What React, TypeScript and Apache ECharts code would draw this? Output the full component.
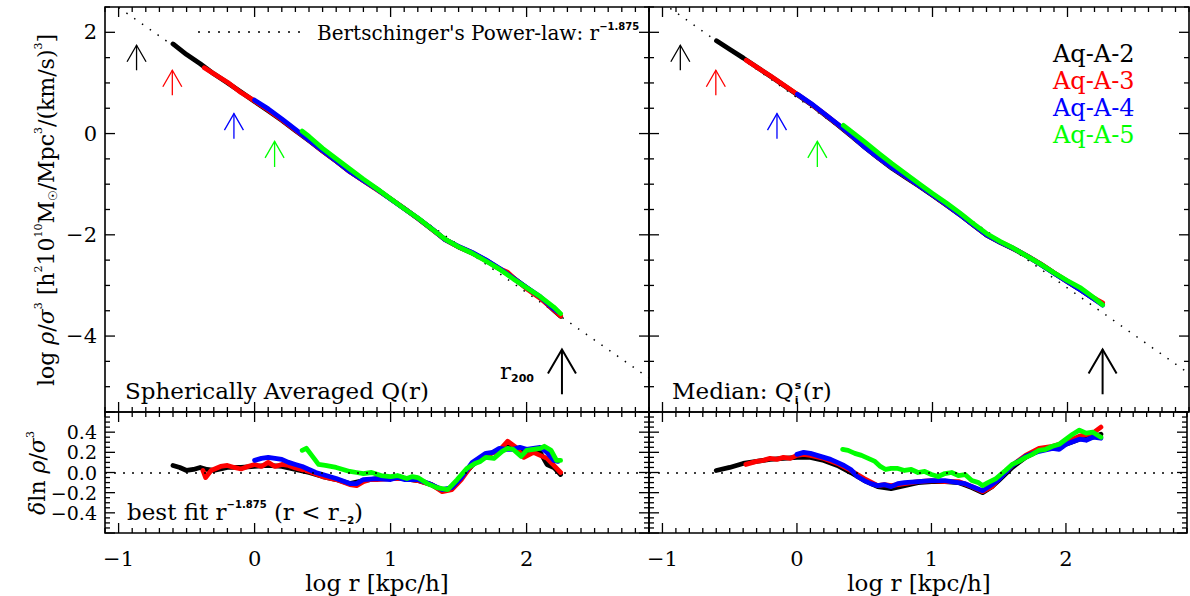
import React, { useEffect, useRef } from "react";
import * as echarts from "echarts";

// ---------- axis ranges ----------
const X_MIN = -1.1;
const X_MAX = 2.9;
const Y_TOP_MIN = -5.5;
const Y_TOP_MAX = 2.5;
const Y_BOT_MIN = -0.6;
const Y_BOT_MAX = 0.6;

// ---------- tick values ----------
const xMajorTicks = [-1, 0, 1, 2];
const yTopMajorTicks = [-4, -2, 0, 2];
const yBotMajorTicks = [-0.6, -0.4, -0.2, 0, 0.2, 0.4, 0.6];

// ---------- labels ----------
const seriesNames = ["Aq-A-2", "Aq-A-3", "Aq-A-4", "Aq-A-5"];
const seriesColors = ["#000000", "#ff0000", "#0000ff", "#00ff00"];

// ---------- Bertschinger power law (log rho/sigma^3 at log r = -1 and 2.9) ----------
const powerLawX = [-1, 2.9];
const powerLawLeft = [2.49, -4.83];
const powerLawRight = [2.58, -4.74];

// ---------- convergence-radius arrows (log r, tail, tip) ----------
const arrowX = [-0.868, -0.605, -0.152, 0.147];
const arrowTail = [1.25, 0.755, -0.1, -0.66];
const arrowTip = [1.745, 1.25, 0.395, -0.155];
const r200X = 2.26;
const r200Tail = -5.15;
const r200Tip = -4.265;

// ---------- top-left: spherically averaged ----------
const tlA2 = [[-0.6,1.77],[-0.5,1.56],[-0.4,1.38],[-0.3,1.18],[-0.2,1.005],[-0.1,0.82],[0,0.635],[0.1,0.45],[0.2,0.26],[0.3,0.06],[0.4,-0.14],[0.5,-0.345],[0.6,-0.545],[0.7,-0.75],[0.8,-0.925],[0.9,-1.1],[1.0,-1.29],[1.1,-1.48],[1.2,-1.675],[1.3,-1.88],[1.4,-2.09],[1.5,-2.24],[1.6,-2.36],[1.7,-2.5],[1.8,-2.67],[1.9,-2.845],[2.0,-3.045],[2.1,-3.24],[2.2,-3.49],[2.25,-3.61]];
const tlA3 = [[-0.37,1.3],[-0.3,1.18],[-0.2,1.015],[-0.1,0.81],[0,0.645],[0.1,0.465],[0.2,0.27],[0.3,0.067],[0.4,-0.135],[0.5,-0.345],[0.6,-0.545],[0.7,-0.755],[0.8,-0.93],[0.9,-1.108],[1.0,-1.29],[1.1,-1.478],[1.2,-1.675],[1.3,-1.88],[1.4,-2.093],[1.5,-2.237],[1.6,-2.355],[1.7,-2.504],[1.8,-2.67],[1.86,-2.74],[1.9,-2.84],[2.0,-3.066],[2.1,-3.254],[2.2,-3.485],[2.25,-3.605]];
const tlA4 = [[0,0.66],[0.1,0.488],[0.2,0.29],[0.3,0.082],[0.4,-0.127],[0.5,-0.336],[0.6,-0.54],[0.7,-0.75],[0.8,-0.925],[0.9,-1.1],[1.0,-1.295],[1.1,-1.483],[1.2,-1.67],[1.3,-1.875],[1.4,-2.093],[1.5,-2.23],[1.6,-2.347],[1.7,-2.495],[1.8,-2.66],[1.9,-2.853],[2.0,-3.04],[2.1,-3.223],[2.2,-3.463],[2.23,-3.52]];
const tlA5 = [[0.35,0.05],[0.4,-0.057],[0.5,-0.293],[0.6,-0.498],[0.7,-0.7],[0.8,-0.9],[0.9,-1.09],[1.0,-1.287],[1.1,-1.483],[1.2,-1.666],[1.3,-1.88],[1.4,-2.085],[1.5,-2.237],[1.6,-2.364],[1.7,-2.517],[1.8,-2.678],[1.9,-2.866],[2.0,-3.044],[2.1,-3.219],[2.2,-3.428],[2.25,-3.557]];

// ---------- top-right: median ----------
const trA2 = [[-0.6,1.834],[-0.5,1.66],[-0.4,1.49],[-0.3,1.31],[-0.2,1.131],[-0.1,0.948],[0,0.765],[0.1,0.58],[0.2,0.377],[0.3,0.168],[0.4,-0.05],[0.5,-0.272],[0.6,-0.486],[0.7,-0.686],[0.8,-0.861],[0.9,-1.035],[1.0,-1.218],[1.1,-1.406],[1.2,-1.598],[1.3,-1.803],[1.4,-2.008],[1.5,-2.147],[1.6,-2.278],[1.7,-2.422],[1.8,-2.579],[1.9,-2.754],[2.0,-2.928],[2.1,-3.094],[2.2,-3.273],[2.26,-3.372]];
const trA3 = [[-0.38,1.447],[-0.3,1.31],[-0.2,1.136],[-0.1,0.953],[0,0.774],[0.1,0.586],[0.2,0.386],[0.3,0.177],[0.4,-0.041],[0.5,-0.264],[0.6,-0.481],[0.7,-0.669],[0.8,-0.848],[0.9,-1.027],[1.0,-1.21],[1.1,-1.402],[1.2,-1.589],[1.3,-1.798],[1.4,-2.003],[1.5,-2.139],[1.6,-2.27],[1.7,-2.414],[1.8,-2.571],[1.9,-2.75],[2.0,-2.92],[2.1,-3.081],[2.2,-3.256],[2.26,-3.342]];
const trA4 = [[0,0.778],[0.1,0.595],[0.2,0.39],[0.3,0.181],[0.4,-0.037],[0.5,-0.272],[0.6,-0.481],[0.7,-0.673],[0.8,-0.843],[0.9,-1.027],[1.0,-1.21],[1.1,-1.397],[1.2,-1.593],[1.3,-1.798],[1.4,-2.003],[1.5,-2.143],[1.6,-2.27],[1.7,-2.418],[1.8,-2.584],[1.9,-2.758],[2.0,-2.928],[2.1,-3.094],[2.2,-3.273],[2.26,-3.39]];
const trA5 = [[0.34,0.162],[0.4,0.037],[0.5,-0.168],[0.6,-0.386],[0.7,-0.595],[0.8,-0.791],[0.9,-0.988],[1.0,-1.184],[1.1,-1.367],[1.2,-1.563],[1.3,-1.772],[1.4,-1.973],[1.5,-2.13],[1.6,-2.265],[1.7,-2.422],[1.8,-2.579],[1.9,-2.75],[2.0,-2.907],[2.1,-3.055],[2.2,-3.251],[2.26,-3.385]];

// ---------- bottom-left: residuals, spherically averaged ----------
const blA2 = [[-0.6,0.07],[-0.55,0.05],[-0.5,0.02],[-0.45,0.03],[-0.4,0.05],[-0.35,0.03],[-0.3,0.02],[-0.2,0.05],[-0.1,0.05],[0,0.06],[0.1,0.07],[0.2,0.06],[0.3,0.03],[0.4,0.0],[0.5,-0.04],[0.6,-0.07],[0.7,-0.11],[0.8,-0.08],[0.9,-0.06],[1.0,-0.06],[1.1,-0.06],[1.2,-0.08],[1.3,-0.12],[1.38,-0.18],[1.45,-0.16],[1.5,-0.08],[1.6,0.07],[1.7,0.17],[1.8,0.22],[1.85,0.28],[1.9,0.25],[2.0,0.22],[2.1,0.2],[2.15,0.08],[2.2,0.05],[2.25,-0.02]];
const blA3 = [[-0.38,0.02],[-0.36,-0.05],[-0.32,0.02],[-0.25,0.06],[-0.2,0.07],[-0.15,0.05],[-0.1,0.035],[-0.05,0.06],[0,0.08],[0.05,0.06],[0.1,0.1],[0.15,0.06],[0.2,0.08],[0.25,0.07],[0.3,0.045],[0.4,0.01],[0.5,-0.04],[0.6,-0.07],[0.7,-0.12],[0.75,-0.13],[0.8,-0.09],[0.85,-0.07],[0.9,-0.07],[1.0,-0.06],[1.1,-0.06],[1.2,-0.08],[1.3,-0.12],[1.38,-0.19],[1.45,-0.17],[1.52,-0.07],[1.6,0.08],[1.7,0.17],[1.8,0.22],[1.86,0.31],[1.92,0.25],[1.98,0.15],[2.05,0.2],[2.1,0.17],[2.15,0.14],[2.2,0.07],[2.25,0.0]];
const blA4 = [[0,0.12],[0.05,0.14],[0.1,0.15],[0.15,0.14],[0.2,0.13],[0.25,0.1],[0.3,0.08],[0.35,0.06],[0.4,0.03],[0.45,0.0],[0.5,-0.02],[0.6,-0.06],[0.7,-0.11],[0.75,-0.11],[0.8,-0.07],[0.9,-0.06],[1.0,-0.07],[1.05,-0.05],[1.1,-0.07],[1.2,-0.07],[1.3,-0.12],[1.38,-0.17],[1.45,-0.15],[1.52,-0.05],[1.6,0.1],[1.7,0.19],[1.75,0.2],[1.8,0.24],[1.85,0.23],[1.9,0.23],[1.95,0.25],[2.0,0.23],[2.05,0.24],[2.1,0.25],[2.15,0.2],[2.2,0.12],[2.23,0.11]];
const blA5 = [[0.35,0.22],[0.38,0.24],[0.42,0.17],[0.47,0.08],[0.52,0.07],[0.56,0.06],[0.6,0.05],[0.65,0.03],[0.7,0.01],[0.75,0.0],[0.8,-0.01],[0.86,0.0],[0.93,-0.03],[1.0,-0.04],[1.05,-0.03],[1.12,-0.06],[1.16,-0.04],[1.2,-0.05],[1.27,-0.11],[1.34,-0.15],[1.42,-0.17],[1.49,-0.07],[1.56,0.04],[1.62,0.09],[1.66,0.11],[1.7,0.15],[1.76,0.14],[1.82,0.21],[1.86,0.24],[1.9,0.23],[1.96,0.16],[2.0,0.22],[2.05,0.23],[2.1,0.24],[2.13,0.26],[2.18,0.22],[2.22,0.12],[2.25,0.12]];

// ---------- bottom-right: residuals, median ----------
const brA2 = [[-0.6,0.02],[-0.5,0.05],[-0.4,0.09],[-0.3,0.11],[-0.2,0.13],[-0.1,0.14],[0,0.15],[0.1,0.15],[0.2,0.12],[0.3,0.07],[0.4,0.0],[0.5,-0.08],[0.6,-0.14],[0.7,-0.16],[0.8,-0.13],[0.9,-0.1],[1.0,-0.09],[1.1,-0.09],[1.2,-0.1],[1.3,-0.15],[1.38,-0.2],[1.45,-0.14],[1.5,-0.08],[1.6,0.05],[1.7,0.15],[1.8,0.22],[1.9,0.25],[2.0,0.28],[2.1,0.33],[2.2,0.35],[2.26,0.38]];
const brA3 = [[-0.38,0.08],[-0.3,0.11],[-0.25,0.12],[-0.2,0.14],[-0.15,0.13],[-0.1,0.15],[-0.05,0.14],[0,0.17],[0.05,0.18],[0.1,0.17],[0.2,0.14],[0.3,0.09],[0.4,0.02],[0.5,-0.06],[0.6,-0.13],[0.65,-0.12],[0.7,-0.13],[0.8,-0.11],[0.9,-0.09],[1.0,-0.08],[1.1,-0.09],[1.2,-0.09],[1.3,-0.14],[1.38,-0.19],[1.45,-0.14],[1.5,-0.06],[1.6,0.07],[1.7,0.17],[1.8,0.24],[1.9,0.26],[2.0,0.3],[2.1,0.36],[2.2,0.39],[2.26,0.45]];
const brA4 = [[0,0.18],[0.05,0.2],[0.1,0.19],[0.15,0.17],[0.2,0.15],[0.25,0.13],[0.3,0.1],[0.35,0.07],[0.4,0.03],[0.45,-0.04],[0.5,-0.08],[0.55,-0.11],[0.6,-0.13],[0.65,-0.12],[0.7,-0.14],[0.75,-0.11],[0.8,-0.1],[0.9,-0.09],[1.0,-0.08],[1.1,-0.08],[1.2,-0.1],[1.25,-0.11],[1.3,-0.14],[1.38,-0.18],[1.45,-0.12],[1.5,-0.07],[1.6,0.07],[1.7,0.16],[1.8,0.21],[1.9,0.24],[1.95,0.23],[2.0,0.28],[2.1,0.33],[2.15,0.32],[2.2,0.35],[2.26,0.34]];
const brA5 = [[0.34,0.23],[0.38,0.22],[0.43,0.19],[0.48,0.17],[0.53,0.14],[0.58,0.11],[0.62,0.06],[0.66,0.03],[0.7,0.04],[0.75,0.04],[0.8,0.02],[0.85,0.03],[0.9,0.0],[0.95,0.01],[1.0,-0.02],[1.05,-0.04],[1.1,-0.01],[1.15,0.0],[1.2,-0.03],[1.25,-0.02],[1.3,-0.08],[1.35,-0.1],[1.38,-0.13],[1.42,-0.1],[1.48,-0.06],[1.55,0.02],[1.6,0.08],[1.65,0.11],[1.7,0.15],[1.75,0.18],[1.8,0.22],[1.85,0.23],[1.9,0.26],[1.95,0.28],[2.0,0.33],[2.05,0.38],[2.1,0.42],[2.15,0.39],[2.2,0.4],[2.26,0.35]];

const SERIF = '"DejaVu Serif", serif';
const SANS = '"DejaVu Sans", sans-serif';

function steps(a: number, b: number, step: number): number[] {
  const out: number[] = [];
  const n = Math.round((b - a) / step);
  for (let i = 0; i <= n; i++) out.push(Math.round((a + i * step) * 10000) / 10000);
  return out;
}
const near = (a: number, b: number) => Math.abs(a - b) < 1e-6;
const minus = (s: string) => s.replace("-", "\u2212");

function tickSeries(gi: number, yMin: number, yMax: number, yMajor: number[], yStep: number) {
  const data: number[][] = [];
  steps(X_MIN, X_MAX, 0.1).forEach((v) => data.push([v, yMin, 0, xMajorTicks.some((m) => near(m, v)) ? 1 : 0]));
  steps(yMin, yMax, yStep).forEach((v) => data.push([X_MIN, v, 1, yMajor.some((m) => near(m, v)) ? 1 : 0]));
  return {
    type: "custom",
    xAxisIndex: gi,
    yAxisIndex: gi,
    silent: true,
    z: 10,
    data,
    renderItem: (_p: any, api: any) => {
      const dim = api.value(2);
      const len = api.value(3) ? 10 : 5;
      const st = { stroke: "#000", lineWidth: 1.3 };
      if (dim === 0) {
        const v = api.value(0);
        const b = api.coord([v, yMin]);
        const t = api.coord([v, yMax]);
        return {
          type: "group",
          children: [
            { type: "line", shape: { x1: b[0], y1: b[1], x2: b[0], y2: b[1] - len }, style: st },
            { type: "line", shape: { x1: t[0], y1: t[1], x2: t[0], y2: t[1] + len }, style: st },
          ],
        };
      }
      const v = api.value(1);
      const l = api.coord([X_MIN, v]);
      const r = api.coord([X_MAX, v]);
      return {
        type: "group",
        children: [
          { type: "line", shape: { x1: l[0], y1: l[1], x2: l[0] + len, y2: l[1] }, style: st },
          { type: "line", shape: { x1: r[0], y1: r[1], x2: r[0] - len, y2: r[1] }, style: st },
        ],
      };
    },
  };
}

function arrowSeries(gi: number) {
  const data = arrowX.map((x, i) => [x, arrowTail[i], arrowTip[i], i, 0]);
  data.push([r200X, r200Tail, r200Tip, 0, 1]);
  return {
    type: "custom",
    xAxisIndex: gi,
    yAxisIndex: gi,
    silent: true,
    z: 6,
    data,
    renderItem: (_p: any, api: any) => {
      const x = api.value(0);
      const t = api.coord([x, api.value(1)]);
      const h = api.coord([x, api.value(2)]);
      const big = api.value(4) === 1;
      const c = seriesColors[api.value(3)];
      const hw = big ? 14 : 9.5;
      const hh = big ? 24 : 16.5;
      const lw = big ? 2 : 1.3;
      return {
        type: "group",
        children: [
          { type: "line", shape: { x1: t[0], y1: t[1], x2: h[0], y2: h[1] }, style: { stroke: c, lineWidth: lw } },
          {
            type: "polyline",
            shape: { points: [[h[0] - hw, h[1] + hh], [h[0], h[1]], [h[0] + hw, h[1] + hh]] },
            style: { stroke: c, fill: "none", lineWidth: lw },
          },
        ],
      };
    },
  };
}

function lineSeries(gi: number, name: string, data: number[][], color: string, z: number) {
  return {
    type: "line",
    name,
    xAxisIndex: gi,
    yAxisIndex: gi,
    data,
    showSymbol: false,
    symbol: "none",
    clip: true,
    z,
    lineStyle: { color, width: 4.8, join: "round", cap: "round" },
    silent: true,
  };
}

function measure(text: string, font: string): number {
  const c = document.createElement("canvas").getContext("2d");
  if (!c) return text.length * 13;
  c.font = font;
  return c.measureText(text).width;
}

export default function App() {
  const ref = useRef<HTMLDivElement>(null);
  useEffect(() => {
    if (!ref.current) return;
    const chart = echarts.init(ref.current, undefined, { renderer: "svg" });

    const grids = [
      { left: 105, top: 7, width: 544, height: 405 },
      { left: 649, top: 7, width: 540, height: 405 },
      { left: 105, top: 412, width: 544, height: 121 },
      { left: 649, top: 412, width: 540, height: 121 },
    ].map((g) => ({ ...g, show: true, borderColor: "#000", borderWidth: 1.6, backgroundColor: "transparent" }));

    const fmtX = (v: number) => {
      const r = Math.round(v);
      return near(v, r) ? minus(String(r)) : "";
    };
    const fmtYTop = (v: number) => {
      const r = Math.round(v);
      return near(v, r) && r % 2 === 0 ? minus(String(r)) : "";
    };
    const fmtYBot = (v: number) => (Math.abs(v) < 0.5 ? minus((Math.abs(v) < 1e-9 ? 0 : v).toFixed(1)) : "");

    const xAxis = [0, 1, 2, 3].map((i) => ({
      type: "value",
      gridIndex: i,
      min: X_MIN,
      max: X_MAX,
      interval: 0.1,
      axisLine: { show: false },
      axisTick: { show: false },
      splitLine: { show: false },
      axisLabel: { show: i >= 2, formatter: fmtX, margin: 15, fontSize: 21, fontFamily: SERIF, color: "#000" },
    }));
    const yAxis = [0, 1, 2, 3].map((i) => {
      const top = i < 2;
      return {
        type: "value",
        gridIndex: i,
        min: top ? Y_TOP_MIN : Y_BOT_MIN,
        max: top ? Y_TOP_MAX : Y_BOT_MAX,
        interval: top ? 0.5 : 0.2,
        axisLine: { show: false },
        axisTick: { show: false },
        splitLine: { show: false },
        axisLabel: {
          show: i === 0 || i === 2,
          formatter: top ? fmtYTop : fmtYBot,
          margin: 8,
          fontSize: top ? 21 : 19,
          lineHeight: top ? 24 : 17,
          fontFamily: SERIF,
          color: "#000",
        },
      };
    });

    const dotted = { color: "#000", width: 1.5, type: [1.5, 8] as any };
    const plLeft = powerLawX.map((x, i) => [x, powerLawLeft[i]]);
    const plRight = powerLawX.map((x, i) => [x, powerLawRight[i]]);

    const panels = [
      [tlA2, tlA3, tlA4, tlA5],
      [trA2, trA3, trA4, trA5],
      [blA2, blA3, blA4, blA5],
      [brA2, brA3, brA4, brA5],
    ];

    const series: any[] = [];
    series.push({ type: "line", xAxisIndex: 0, yAxisIndex: 0, data: plLeft, showSymbol: false, symbol: "none", lineStyle: dotted, z: 1, silent: true });
    series.push({ type: "line", xAxisIndex: 1, yAxisIndex: 1, data: plRight, showSymbol: false, symbol: "none", lineStyle: dotted, z: 1, silent: true });
    [2, 3].forEach((gi) =>
      series.push({
        type: "line",
        xAxisIndex: gi,
        yAxisIndex: gi,
        data: [],
        markLine: {
          silent: true,
          symbol: "none",
          label: { show: false },
          lineStyle: { color: "#000", width: 1.5, type: [2, 7] as any },
          data: [{ yAxis: 0 }],
        },
      })
    );
    panels.forEach((p, gi) => p.forEach((d, k) => series.push(lineSeries(gi, seriesNames[k], d, seriesColors[k], 2 + k * 0.1))));
    series.push(arrowSeries(0), arrowSeries(1));
    series.push(tickSeries(0, Y_TOP_MIN, Y_TOP_MAX, yTopMajorTicks, 0.5));
    series.push(tickSeries(1, Y_TOP_MIN, Y_TOP_MAX, yTopMajorTicks, 0.5));
    series.push(tickSeries(2, Y_BOT_MIN, Y_BOT_MAX, yBotMajorTicks, 0.05));
    series.push(tickSeries(3, Y_BOT_MIN, Y_BOT_MAX, yBotMajorTicks, 0.05));

    const base = { fill: "#000", fontFamily: SERIF };
    const richMain = { fontSize: 23, fontFamily: SERIF, lineHeight: 26 };
    const richSup = { fontSize: 10, fontFamily: SANS, fontWeight: "bold", verticalAlign: "top", lineHeight: 10 };
    const richSub = { fontSize: 10, fontFamily: SANS, fontWeight: "bold", verticalAlign: "bottom", lineHeight: 13 };

    const medFont = `23px ${SERIF}`;
    const medX = 672;
    const medW = measure("Median: Q", medFont);

    const graphic: any[] = [
      // y titles
      {
        type: "text",
        x: 46,
        y: 210,
        rotation: Math.PI / 2,
        style: {
          ...base,
          text: "{n|log }{i|\u03c1}{n|/}{i|\u03c3}{s|3}{n| [h}{s|2}{n|10}{s|10}{n|M}{b|\u2609}{n|/Mpc}{s|3}{n|/(km/s)}{s|3}{n|]}",
          align: "center",
          verticalAlign: "middle",
          rich: {
            n: { fontSize: 22, fontFamily: SERIF, lineHeight: 26 },
            i: { fontSize: 22, fontFamily: SERIF, fontStyle: "italic", lineHeight: 26 },
            s: { fontSize: 11, fontFamily: SERIF, verticalAlign: "top", lineHeight: 11 },
            b: { fontSize: 12, fontFamily: SANS, verticalAlign: "bottom", lineHeight: 15 },
          },
        },
      },
      {
        type: "text",
        x: 37,
        y: 473,
        rotation: Math.PI / 2,
        style: {
          ...base,
          text: "{i|\u03b4}{n|ln }{i|\u03c1}{n|/}{i|\u03c3}{s|3}",
          align: "center",
          verticalAlign: "middle",
          rich: {
            n: { fontSize: 22, fontFamily: SERIF, lineHeight: 24 },
            i: { fontSize: 22, fontFamily: SERIF, fontStyle: "italic", lineHeight: 24 },
            s: { fontSize: 11, fontFamily: SERIF, verticalAlign: "top", lineHeight: 11 },
          },
        },
      },
      // x titles
      { type: "text", x: 377, y: 583, style: { ...base, text: "log r [kpc/h]", fontSize: 23, align: "center", verticalAlign: "middle" } },
      { type: "text", x: 919, y: 583, style: { ...base, text: "log r [kpc/h]", fontSize: 23, align: "center", verticalAlign: "middle" } },
      // power-law key
      { type: "line", shape: { x1: 198, y1: 32, x2: 300, y2: 32 }, style: { stroke: "#000", lineWidth: 1.5, lineDash: [2, 8] } },
      {
        type: "text",
        x: 317,
        y: 33,
        style: {
          ...base,
          text: "{n|Bertschinger's Power-law: r}{s|\u22121.875}",
          verticalAlign: "middle",
          rich: { n: { fontSize: 20, fontFamily: SERIF, lineHeight: 23 }, s: richSup },
        },
      },
      // panel labels
      { type: "text", x: 125, y: 391, style: { ...base, text: "Spherically Averaged Q(r)", fontSize: 23, verticalAlign: "middle" } },
      { type: "text", x: medX, y: 391, style: { ...base, text: "Median: Q", fontSize: 23, verticalAlign: "middle" } },
      { type: "text", x: medX + medW + 1, y: 385, style: { ...base, text: "s", fontSize: 11, fontWeight: "bold", fontFamily: SANS, verticalAlign: "middle" } },
      { type: "text", x: medX + medW + 1, y: 400, style: { ...base, text: "i", fontSize: 11, fontWeight: "bold", fontFamily: SANS, verticalAlign: "middle" } },
      { type: "text", x: medX + medW + 9, y: 391, style: { ...base, text: "(r)", fontSize: 23, verticalAlign: "middle" } },
      {
        type: "text",
        x: 127,
        y: 512,
        style: {
          ...base,
          text: "{n|best fit r}{s|\u22121.875}{n| (r < r}{b|\u22122}{n|)}",
          verticalAlign: "middle",
          rich: { n: richMain, s: richSup, b: richSub },
        },
      },
      {
        type: "text",
        x: 500,
        y: 371,
        style: {
          ...base,
          text: "{n|r}{b|200}",
          verticalAlign: "middle",
          rich: { n: richMain, b: { ...richSub, fontSize: 11 } },
        },
      },
    ];
    seriesNames.forEach((nm, i) =>
      graphic.push({
        type: "text",
        x: 1053,
        y: 54 + i * 27,
        style: { text: nm, fill: seriesColors[i], fontFamily: SERIF, fontSize: 24, verticalAlign: "middle" },
      })
    );

    chart.setOption({
      animation: false,
      backgroundColor: "#ffffff",
      grid: grids,
      xAxis,
      yAxis,
      series,
      graphic,
    });
    return () => chart.dispose();
  }, []);
  return <div ref={ref} style={{ position: "fixed", left: 0, top: 0, width: 1190, height: 596 }} />;
}
